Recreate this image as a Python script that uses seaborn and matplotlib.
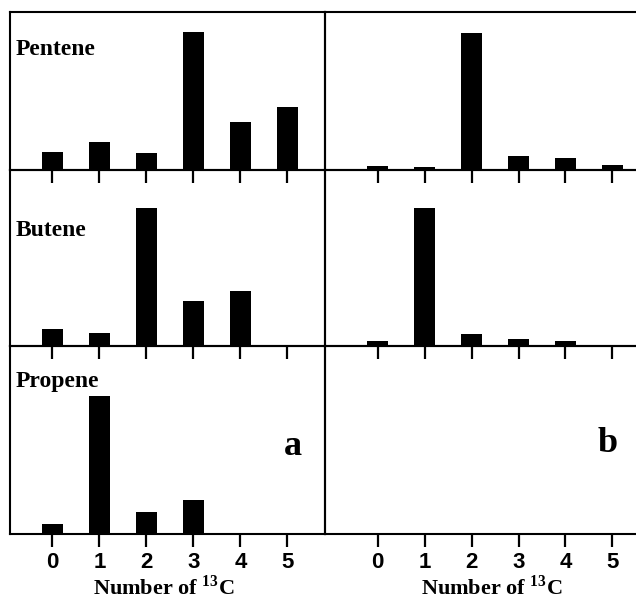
import matplotlib
matplotlib.use("Agg")
import matplotlib.pyplot as plt
import seaborn as sns

# number of 13C atoms in the molecule
n_13c = ["0", "1", "2", "3", "4", "5"]

# relative abundances (tallest peak = 100)
pentene_a = [12.8, 20.0, 12.0, 100, 34.5, 45.9]
butene_a = [12.1, 9.7, 100, 32.6, 39.7, 0]
propene_a = [7.3, 100, 16.3, 24.6, 0, 0]

pentene_b = [2.6, 1.9, 99.3, 10.1, 8.4, 3.3]
butene_b = [3.8, 100, 8.5, 5.3, 3.4, 0]
propene_b = []

row_names = ["Pentene", "Butene", "Propene"]
panel_a = [pentene_a, butene_a, propene_a]
panel_b = [pentene_b, butene_b, propene_b]

sns.set_style("white")
plt.rcParams["text.color"] = "black"
plt.rcParams["xtick.color"] = "black"
plt.rcParams["xtick.labelcolor"] = "black"
plt.rcParams["mathtext.fontset"] = "custom"
plt.rcParams["mathtext.rm"] = "Liberation Serif:bold"
plt.rcParams["mathtext.bf"] = "Liberation Serif:bold"

fig = plt.figure(figsize=(6.36, 6.01), dpi=100)

# axes layout in pixels (top, height) for each row
W, H = 636, 601
rows_px = [(12, 158), (170, 176), (346, 188)]
cols_px = [(10, 315), (325, 333)]
ytops = [114.5, 127.5, 136.2]
name_y = [0.728, 0.625, 0.784]

for c, (panel, (x0, w)) in enumerate(zip([panel_a, panel_b], cols_px)):
    for r, (vals, (y0, h)) in enumerate(zip(panel, rows_px)):
        ax = fig.add_axes([x0 / W, 1 - (y0 + h) / H, w / W, h / H])
        ax.set_facecolor("none")
        if len(vals):
            sns.barplot(x=n_13c, y=vals, color="black", width=0.46,
                        linewidth=0, saturation=1, ax=ax)
        ax.set_xticks(range(6))
        ax.set_xticklabels(n_13c, fontfamily="Liberation Sans",
                           fontweight="bold", fontsize=16, color="black")
        if c == 0:
            ax.set_xlim(-0.9, 5.8)
        else:
            ax.set_xlim(-1.12, 5.97)
        ax.set_ylim(0, ytops[r])
        ax.set_yticks([])
        ax.set_xlabel("")
        ax.set_ylabel("")
        ax.tick_params(axis="x", bottom=True, direction="out", length=9,
                       width=1.6, color="black", pad=4,
                       labelbottom=(r == 2))
        for s in ax.spines.values():
            s.set_color("black")
            s.set_linewidth(1.5)
        if c == 0:
            ax.text(0.018, name_y[r], row_names[r], transform=ax.transAxes,
                    fontfamily="Liberation Serif", fontweight="bold",
                    fontsize=17, va="baseline", ha="left", color="black")

    # panel letter in the bottom row
    letter_ax = fig.axes[-1]
    if c == 0:
        letter_ax.text(0.898, 0.42, "a", transform=letter_ax.transAxes,
                       fontfamily="Liberation Serif", fontweight="bold",
                       fontsize=26, ha="center", va="baseline", color="black")
    else:
        letter_ax.text(0.85, 0.435, "b", transform=letter_ax.transAxes,
                       fontfamily="Liberation Serif", fontweight="bold",
                       fontsize=26, ha="center", va="baseline", color="black")

# x-axis titles
for xc in [164, 492]:
    fig.text(xc / W, 1 - 595 / H, r"Number of $^{13}$C",
             fontfamily="Liberation Serif", fontweight="bold",
             fontsize=16, ha="center", va="baseline", color="black")

fig.savefig("out.png", dpi=100)
